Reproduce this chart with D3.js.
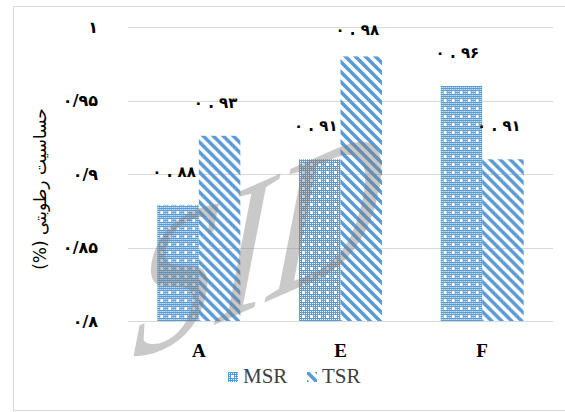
<!DOCTYPE html>
<html>
<head>
<meta charset="utf-8" />
<title>Humidity sensitivity</title>
<script src="https://cdn.jsdelivr.net/npm/d3@7"></script>
<style>
    body { margin: 0; background: #fff; }
    .serif { font-family: "Liberation Serif", "DejaVu Serif", serif; }
</style>
</head>
<body>
<script>
    const categories = ["A", "E", "F"];
    const seriesNames = ["MSR", "TSR"];
    const msrValues = [0.879, 0.91, 0.96];
    const tsrValues = [0.926, 0.98, 0.91];
    const yTicks = [0.8, 0.85, 0.9, 0.95, 1];
    const yTitle = "حساسیت رطوبتی (%)";

    const width = 565, height = 412;
    const margin = {top: 27, right: 12, bottom: 91, left: 128};
    const blue = "#5b9bd5";

    const faDigits = s => s.replace(/\d/g, d => "۰۱۲۳۴۵۶۷۸۹"[+d]);
    const tickText = v => faDigits(String(v).replace(".", "/"));
    const valueText = v => faDigits(d3.format(".2f")(v)).replace(".", " . ");

    const data = categories.map((c, i) => ({
        cat: c,
        values: [
            {key: "MSR", value: msrValues[i]},
            {key: "TSR", value: tsrValues[i]}
        ]
    }));

    const svg = d3.select("body").append("svg")
        .attr("width", width)
        .attr("height", height);

    // patterns
    const defs = svg.append("defs");
    const dots = defs.append("pattern")
        .attr("id", "msr")
        .attr("patternUnits", "userSpaceOnUse")
        .attr("width", 8).attr("height", 8);
    dots.append("rect").attr("width", 8).attr("height", 8).attr("fill", "#fff");
    [0, 2, 4, 6].forEach(k => {
        dots.append("rect").attr("x", k).attr("y", 0).attr("width", 1).attr("height", 8).attr("fill", blue);
        dots.append("rect").attr("x", 0).attr("y", k).attr("width", 8).attr("height", 1).attr("fill", blue);
    });
    dots.append("rect").attr("x", 3).attr("y", 4).attr("width", 3).attr("height", 1).attr("fill", "#fff");
    dots.append("rect").attr("x", 4).attr("y", 3).attr("width", 1).attr("height", 3).attr("fill", "#fff");

    const stripes = defs.append("pattern")
        .attr("id", "tsr")
        .attr("patternUnits", "userSpaceOnUse")
        .attr("width", 10).attr("height", 10);
    stripes.append("path")
        .attr("d", "M-1,9 L1,11 M0,0 L10,10 M9,-1 L11,1")
        .attr("stroke", blue)
        .attr("stroke-width", 3.6);

    const fills = {MSR: "url(#msr)", TSR: "url(#tsr)"};

    // chart frame
    svg.append("rect")
        .attr("x", 13.5).attr("y", 6.5)
        .attr("width", 560).attr("height", 404)
        .attr("fill", "#fff")
        .attr("stroke", "#d9d9d9");

    const x0 = d3.scaleBand()
        .domain(categories)
        .range([margin.left, width - margin.right])
        .paddingInner(0.414)
        .paddingOuter(0.207);

    const x1 = d3.scaleBand()
        .domain(seriesNames)
        .range([0, x0.bandwidth()]);

    const y = d3.scaleLinear()
        .domain([0.8, 1])
        .range([height - margin.bottom, margin.top]);

    // gridlines
    svg.append("g")
        .selectAll("line")
        .data(yTicks)
        .join("line")
        .attr("x1", margin.left)
        .attr("x2", width - margin.right)
        .attr("y1", d => Math.round(y(d)) + 0.5)
        .attr("y2", d => Math.round(y(d)) + 0.5)
        .attr("stroke", "#d9d9d9");

    // y axis labels
    const yAxis = d3.axisLeft(y)
        .tickValues(yTicks)
        .tickSize(0)
        .tickPadding(30)
        .tickFormat(tickText);
    svg.append("g")
        .attr("transform", `translate(${margin.left},0)`)
        .call(yAxis)
        .call(g => g.select(".domain").remove())
        .call(g => g.selectAll("text")
            .attr("font-family", "DejaVu Sans")
            .attr("font-weight", "bold")
            .attr("font-size", 16)
            .attr("fill", "#000")
            .attr("direction", "ltr"));

    // x axis labels
    const xAxis = d3.axisBottom(x0).tickSize(0).tickPadding(23);
    svg.append("g")
        .attr("transform", `translate(0,${height - margin.bottom})`)
        .call(xAxis)
        .call(g => g.select(".domain").remove())
        .call(g => g.selectAll("text")
            .attr("class", "serif")
            .attr("font-family", null)
            .attr("font-weight", "bold")
            .attr("font-size", 19)
            .attr("fill", "#000"));

    // bars
    const groups = svg.append("g")
        .selectAll("g")
        .data(data)
        .join("g")
        .attr("transform", d => `translate(${x0(d.cat)},0)`);

    groups.selectAll("rect")
        .data(d => d.values)
        .join("rect")
        .attr("x", d => x1(d.key))
        .attr("y", d => y(d.value))
        .attr("width", x1.bandwidth())
        .attr("height", d => y(0.8) - y(d.value))
        .attr("fill", d => fills[d.key]);

    groups.selectAll("text")
        .data(d => d.values)
        .join("text")
        .attr("x", d => x1(d.key) + x1.bandwidth() / 2 - 4)
        .attr("y", d => Math.max(y(d.value) - 28, 35))
        .attr("text-anchor", "middle")
        .attr("direction", "ltr")
        .attr("font-family", "DejaVu Sans")
        .attr("font-weight", "bold")
        .attr("font-size", 15)
        .attr("letter-spacing", 2)
        .text(d => valueText(d.value));

    // y title
    svg.append("text")
        .attr("transform", "translate(46,189) rotate(-90)")
        .attr("text-anchor", "middle")
        .attr("direction", "rtl")
        .attr("font-family", "DejaVu Sans")
        .attr("font-size", 17)
        .attr("fill", "#000")
        .text(yTitle);

    // legend
    const legend = svg.append("g")
        .selectAll("g")
        .data(seriesNames)
        .join("g")
        .attr("transform", (d, i) => `translate(${228 + i * 79},372)`);
    legend.append("rect")
        .attr("width", 10)
        .attr("height", 10)
        .attr("fill", d => fills[d]);
    legend.append("text")
        .attr("class", "serif")
        .attr("x", 15)
        .attr("y", 11)
        .attr("font-size", 21)
        .attr("fill", "#404040")
        .text(d => d);

    // watermark
    svg.append("text")
        .attr("class", "serif")
        .attr("transform", "translate(122,366) rotate(-24) skewX(-35)")
        .attr("font-size", 170)
        .attr("fill", "#7f7f7f")
        .attr("fill-opacity", 0.42)
        .attr("pointer-events", "none")
        .text("SID");
</script>
</body>
</html>
